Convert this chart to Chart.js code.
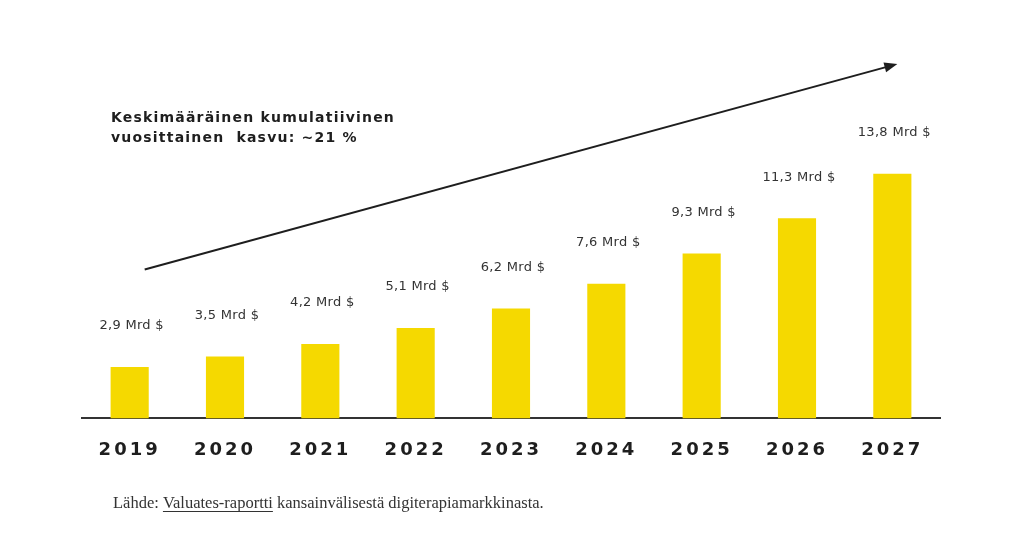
<!DOCTYPE html>
<html>
<head>
<meta charset="utf-8">
<script src="https://cdn.jsdelivr.net/npm/chart.js@4"></script>
<style>
  html, body { margin: 0; padding: 0; background: #fff; }
  #wrap { width: 1024px; height: 558px; position: relative; }
</style>
</head>
<body>
<div id="wrap"><canvas id="grafico" width="1024" height="558"></canvas></div>
<script>
// === DADOS ===
const vuodet = ["2019", "2020", "2021", "2022", "2023", "2024", "2025", "2026", "2027"];
const arvot = [2.9, 3.5, 4.2, 5.1, 6.2, 7.6, 9.3, 11.3, 13.8];
const otsikko = ["Keskimääräinen kumulatiivinen", "vuosittainen  kasvu: ~21 %"];
const lahdeAlku = "Lähde: ";
const lahdeLinkki = "Valuates-raportti";
const lahdeLoppu = " kansainvälisestä digiterapiamarkkinasta.";

const keltainen = "#f5d900";
const tumma = "#1e1e1e";

// etiquetas "2,9 Mrd $"
const fmt = (v) => v.toFixed(1).replace(".", ",") + " Mrd $";

// === PLUGIN: espaçamento das letras nos anos ===
const espacamento = {
  id: "espacamento",
  beforeDraw(chart) { chart.ctx.letterSpacing = "3px"; },
  beforeDatasetsDraw(chart) { chart.ctx.letterSpacing = "0px"; }
};

// === PLUGIN: textos, seta e rótulos ===
const extras = {
  id: "extras",
  afterDatasetsDraw(chart) {
    const ctx = chart.ctx;
    const x = chart.scales.x, y = chart.scales.y;
    const meta = chart.getDatasetMeta(0);

    // rótulos dos valores
    ctx.save();
    ctx.font = "13px 'DejaVu Sans'";
    ctx.letterSpacing = "0.3px";
    ctx.fillStyle = "#333";
    ctx.textAlign = "center";
    ctx.textBaseline = "middle";
    meta.data.forEach((bar, i) => {
      ctx.fillText(fmt(arvot[i]), bar.x + 2, bar.y - 41);
    });
    ctx.restore();

    // seta
    const x0 = x.getPixelForValue(0) + 15, y0 = y.getPixelForValue(8.4);
    const x1 = x.getPixelForValue(8) + 5, y1 = y.getPixelForValue(20);
    const ang = Math.atan2(y1 - y0, x1 - x0);
    ctx.save();
    ctx.strokeStyle = tumma;
    ctx.fillStyle = tumma;
    ctx.lineWidth = 2;
    ctx.beginPath();
    ctx.moveTo(x0, y0);
    ctx.lineTo(x1 - 8 * Math.cos(ang), y1 - 8 * Math.sin(ang));
    ctx.stroke();
    ctx.beginPath();
    ctx.moveTo(x1, y1);
    ctx.lineTo(x1 - 13 * Math.cos(ang) + 5 * Math.sin(ang), y1 - 13 * Math.sin(ang) - 5 * Math.cos(ang));
    ctx.lineTo(x1 - 13 * Math.cos(ang) - 5 * Math.sin(ang), y1 - 13 * Math.sin(ang) + 5 * Math.cos(ang));
    ctx.closePath();
    ctx.fill();
    ctx.restore();

    // título
    ctx.save();
    ctx.font = "bold 14px 'DejaVu Sans'";
    ctx.letterSpacing = "1.2px";
    ctx.fillStyle = tumma;
    ctx.textAlign = "left";
    ctx.textBaseline = "middle";
    ctx.fillText(otsikko[0], 111, 118);
    ctx.fillText(otsikko[1], 111, 138);
    ctx.restore();

    // fonte
    ctx.save();
    ctx.font = "16.5px 'Liberation Serif'";
    ctx.fillStyle = "#333";
    ctx.textAlign = "left";
    ctx.textBaseline = "alphabetic";
    let px = 113;
    const py = 508;
    ctx.fillText(lahdeAlku, px, py);
    px += ctx.measureText(lahdeAlku).width;
    ctx.fillText(lahdeLinkki, px, py);
    const w = ctx.measureText(lahdeLinkki).width;
    ctx.fillRect(px, py + 3, w, 1);
    px += w;
    ctx.fillText(lahdeLoppu, px, py);
    ctx.restore();
  }
};

const ctx = document.getElementById("grafico").getContext("2d");
new Chart(ctx, {
  type: "bar",
  data: {
    labels: vuodet,
    datasets: [{
      data: arvot,
      backgroundColor: keltainen,
      barPercentage: 0.4,
      categoryPercentage: 1
    }]
  },
  options: {
    responsive: false,
    animation: false,
    layout: { padding: { left: 82, right: 84, top: 64, bottom: 76 } },
    plugins: { legend: { display: false }, tooltip: { enabled: false } },
    scales: {
      y: {
        display: false,
        min: 0,
        max: 20
      },
      x: {
        grid: { display: false, drawTicks: false },
        border: { display: true, color: "#333", width: 2 },
        ticks: {
          color: tumma,
          padding: 21,
          font: { family: "'DejaVu Sans'", size: 18, weight: "bold" }
        }
      }
    }
  },
  plugins: [espacamento, extras],
});
</script>
</body>
</html>
